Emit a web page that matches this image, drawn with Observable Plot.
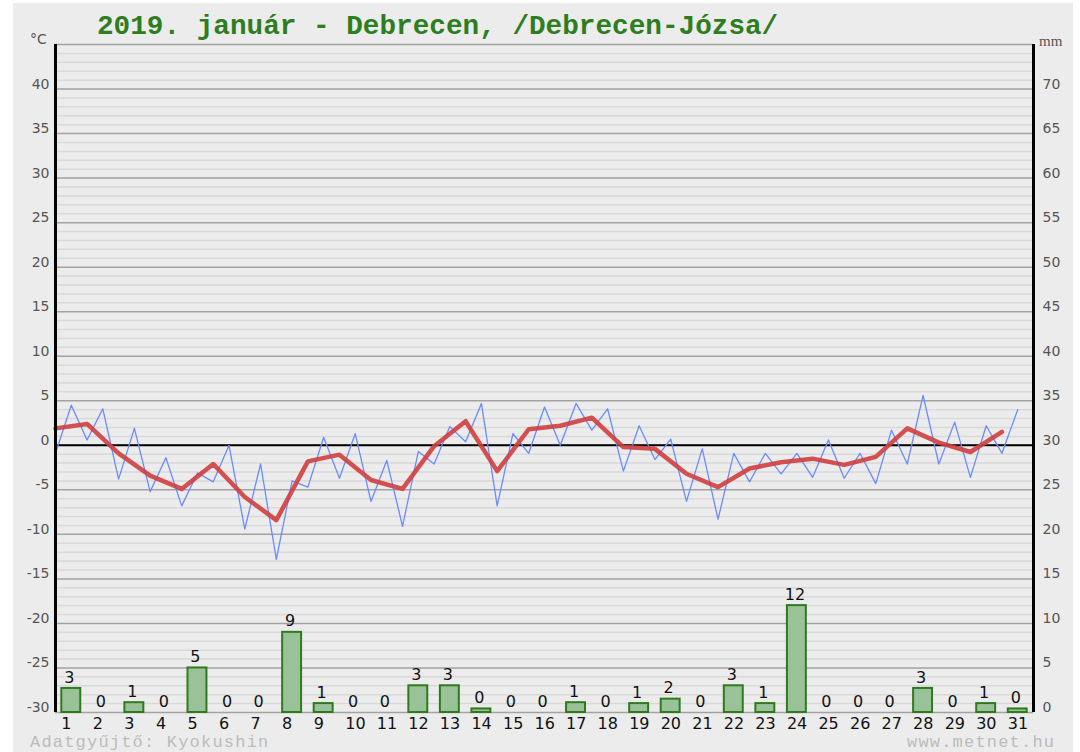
<!DOCTYPE html>
<html><head><meta charset="utf-8">
<script src="https://cdn.jsdelivr.net/npm/d3@7"></script>
<script src="https://cdn.jsdelivr.net/npm/@observablehq/plot@0.6"></script>
<style>
html,body{margin:0;padding:0;background:#fff;}
#wrap{position:relative;width:1080px;height:752px;overflow:hidden;}
#panel{position:absolute;left:13px;top:3px;width:1060px;height:749px;background:#ececec;}
#chart{position:absolute;left:0;top:0;}
.lbl{position:absolute;white-space:nowrap;line-height:1;}
.foot{position:absolute;white-space:nowrap;line-height:1;top:733px;font:17px 'Liberation Mono',monospace;color:#bcbcbc;letter-spacing:1.2px;}
</style></head><body>
<div id="wrap">
<div id="panel"></div>
<div id="chart"></div>
<div class="lbl" style="left:97px;top:11px;font:bold 27.7px 'Liberation Mono',monospace;color:#2e7d1f;">2019. január - Debrecen, /Debrecen-Józsa/</div>
<div class="lbl" style="left:30px;top:31px;font:14px 'DejaVu Sans',sans-serif;color:#555;">°C</div>
<div class="lbl" style="left:1039px;top:33px;font:15px 'Liberation Serif',serif;color:#555;">mm</div>
<div class="foot" style="left:30px;">Adatgyűjtő: Kyokushin</div>
<div class="foot" style="left:907px;">www.metnet.hu</div>
</div>
<script>
// Days of January 2019
const days = d3.range(1, 32);
// Half-daily temperature readings (°C), two per day (thin blue line)
const tempHalfDay = [
  -0.9, 4.5, 0.6, 4.1, -3.8, 1.9, -5.2, -1.4, -6.8, -3.1,
  -4.1, 0.0, -9.4, -2.1, -12.8, -4.0, -4.7, 0.9, -3.7, 1.3,
  -6.3, -1.7, -9.1, -0.7, -2.1, 2.1, 0.4, 4.7, -6.8, 1.3,
  -0.9, 4.3, 0.0, 4.7, 1.7, 4.1, -2.9, 2.2, -1.6, 0.7,
  -6.3, -0.4, -8.3, -0.9, -4.1, -0.9, -3.2, -0.9, -3.6, 0.6,
  -3.7, -0.9, -4.3, 1.7, -2.1, 5.6, -2.1, 2.6, -3.6, 2.2,
  -0.9, 4.0
];
// Daily mean temperature (°C) (thick red line)
const tempMean = [
  1.9, 2.4, -0.9, -3.4, -4.9, -2.1, -5.8, -8.4, -1.8, -1.05,
  -3.9, -4.9, -0.1, 2.7, -2.9, 1.8, 2.2, 3.1, -0.2, -0.4,
  -3.2, -4.7, -2.6, -1.9, -1.5, -2.2, -1.3, 1.9, 0.3, -0.75,
  1.5
];
// Daily precipitation (mm)
const precip = [
  2.7, 0, 1.1, 0, 5.0, 0, 0, 9.0, 1.0, 0,
  0, 3.0, 3.0, 0.4, 0, 0, 1.1, 0, 1.0, 1.5,
  0, 3.0, 1.0, 12.0, 0, 0, 0, 2.7, 0, 1.0,
  0.4
];
// Axis ticks
const tempTicks = d3.range(-30, 41, 5);
const minorGrid = d3.range(-30, 46, 1).filter(v => v % 5 !== 0);
const majorGrid = d3.range(-30, 46, 5);
const mmOffset = 30; // 0 mm sits at -30 °C, 1 mm = 1 °C

const halfData = tempHalfDay.map((t, i) => ({x: i / 2, t}));
const meanData = tempMean.map((t, i) => ({x: i, t}));
const rainData = precip.map((p, i) => ({day: days[i], p}));

const chart = Plot.plot({
  width: 1080,
  height: 752,
  marginLeft: 55,
  marginRight: 47,
  marginTop: 44,
  marginBottom: 40,
  style: {background: "transparent", overflow: "visible"},
  x: {type: "linear", domain: [0, 31], axis: null},
  y: {type: "linear", domain: [-30, 45], axis: null},
  marks: [
    Plot.ruleY(minorGrid, {stroke: "#d9d9d9", strokeWidth: 1.5}),
    Plot.ruleY(majorGrid, {stroke: "#a2a2a2", strokeWidth: 1.5}),
    Plot.ruleY([0], {stroke: "#000", strokeWidth: 2}),
    Plot.axisY(tempTicks, {anchor: "left", tickSize: 0, tickPadding: 6, dy: -5,
      tickFormat: d => String(d), fontSize: 14, fill: "#555", label: null,
      fontFamily: "DejaVu Sans", style: "letter-spacing:1.5px"}),
    Plot.axisY(tempTicks, {anchor: "right", tickSize: 0, tickPadding: 9, dy: -5,
      tickFormat: d => String(d + mmOffset), fontSize: 14, fill: "#555", label: null,
      fontFamily: "DejaVu Sans", style: "letter-spacing:1.5px"}),
    Plot.rect(rainData, {
      x1: d => d.day - 1 + 0.2, x2: d => d.day - 0.2,
      y1: -30, y2: d => d.p - mmOffset,
      fill: "#99c299", stroke: "#2f7a1f", strokeWidth: 2
    }),
    Plot.text(rainData, {
      x: d => d.day - 0.5, y: d => d.p - mmOffset, dy: -11, dx: -2,
      text: d => String(Math.round(d.p)), fontSize: 16, fill: "#111",
      fontFamily: "DejaVu Sans"
    }),
    Plot.text(days, {
      x: d => d - 0.5, y: -30, dy: 11, dx: -10, textAnchor: "start",
      text: d => String(d), fontSize: 16, fill: "#111", fontFamily: "DejaVu Sans"
    }),
    Plot.line(halfData, {x: "x", y: "t", stroke: "#6a8cff", strokeWidth: 1.3}),
    Plot.line(meanData, {x: "x", y: "t", stroke: "#cf3f3f", strokeWidth: 4.5,
      strokeOpacity: 0.9, strokeLinejoin: "round"}),
    Plot.ruleX([0, 31], {y1: -30, y2: 45, stroke: "#000", strokeWidth: 3})
  ]
});
document.getElementById("chart").appendChild(chart);
</script>
</body></html>
